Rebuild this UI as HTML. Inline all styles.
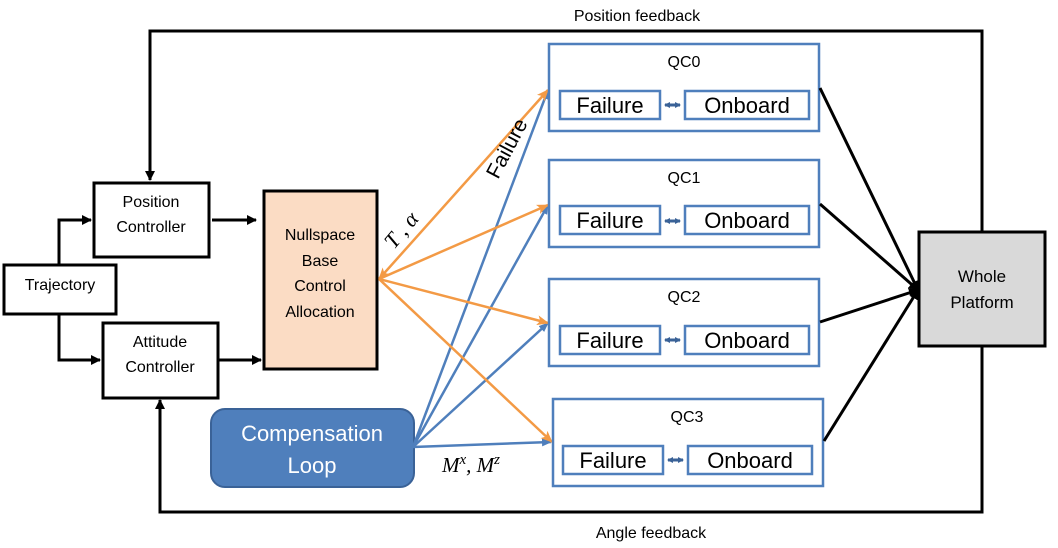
<!DOCTYPE html>
<html><head><meta charset="utf-8"><style>
body{margin:0;background:#fff;}
svg{display:block;font-family:"Liberation Sans",sans-serif;}
</style></head><body>
<svg width="1058" height="548" viewBox="0 0 1058 548" xmlns="http://www.w3.org/2000/svg">
<defs>
<marker id="ab" markerWidth="10" markerHeight="10" refX="9" refY="5" orient="auto" markerUnits="userSpaceOnUse"><path d="M0,0 L10,5 L0,10 z" fill="#000"/></marker>
<marker id="ao" markerWidth="12" markerHeight="10" refX="11" refY="5" orient="auto-start-reverse" markerUnits="userSpaceOnUse"><path d="M0,0 L12,5 L0,10 L3,5 z" fill="#f39a45"/></marker>
<marker id="abl" markerWidth="10" markerHeight="8" refX="9" refY="4" orient="auto" markerUnits="userSpaceOnUse"><path d="M0,0 L10,4 L0,8 z" fill="#4f7fbc"/></marker>
<marker id="dl" markerWidth="6" markerHeight="6" refX="5" refY="3" orient="auto-start-reverse" markerUnits="userSpaceOnUse"><path d="M0,0 L6,3 L0,6 z" fill="#3a6297"/></marker>
</defs>
<polyline points="982,232 982,31 150,31 150,180" fill="none" stroke="#000" stroke-width="3" marker-end="url(#ab)"/>
<polyline points="982,346 982,512 160,512 160,400" fill="none" stroke="#000" stroke-width="3" marker-end="url(#ab)"/>
<text x="637" y="21" font-size="16" text-anchor="middle">Position feedback</text>
<text x="651" y="538" font-size="16" text-anchor="middle">Angle feedback</text>
<polyline points="59,264 59,220 91,220" fill="none" stroke="#000" stroke-width="3" marker-end="url(#ab)"/>
<polyline points="59,314 59,360 100,360" fill="none" stroke="#000" stroke-width="3" marker-end="url(#ab)"/>
<line x1="212" y1="220" x2="256" y2="220" stroke="#000" stroke-width="3" marker-end="url(#ab)"/>
<line x1="219" y1="360" x2="261" y2="360" stroke="#000" stroke-width="3" marker-end="url(#ab)"/>
<rect x="4" y="265" width="112" height="49" fill="#fff" stroke="#000" stroke-width="3"/>
<text x="60" y="290" font-size="16" text-anchor="middle">Trajectory</text>
<rect x="94" y="183" width="115" height="74" fill="#fff" stroke="#000" stroke-width="3"/>
<text x="151" y="207" font-size="16" text-anchor="middle">Position</text>
<text x="151" y="232" font-size="16" text-anchor="middle">Controller</text>
<rect x="103" y="323" width="115" height="75" fill="#fff" stroke="#000" stroke-width="3"/>
<text x="160" y="347" font-size="16" text-anchor="middle">Attitude</text>
<text x="160" y="372" font-size="16" text-anchor="middle">Controller</text>
<rect x="264" y="191" width="113" height="178" fill="#fbdcc4" stroke="#000" stroke-width="3"/>
<g font-size="16" text-anchor="middle"><text x="320" y="240">Nullspace</text><text x="320" y="266">Base</text><text x="320" y="291">Control</text><text x="320" y="317">Allocation</text></g>
<rect x="211" y="409" width="203" height="78" rx="14" fill="#4f7fbc" stroke="#3a6297" stroke-width="2"/>
<text x="312" y="441" font-size="22" fill="#fff" text-anchor="middle">Compensation</text>
<text x="312" y="473" font-size="22" fill="#fff" text-anchor="middle">Loop</text>
<g stroke="#4f7fbc" stroke-width="2.5" fill="none">
<line x1="413" y1="447" x2="548" y2="90" marker-end="url(#abl)"/>
<line x1="413" y1="447" x2="548" y2="205" marker-end="url(#abl)"/>
<line x1="413" y1="447" x2="548" y2="323" marker-end="url(#abl)"/>
<line x1="413" y1="447" x2="551" y2="442" marker-end="url(#abl)"/>
</g>
<g stroke="#f39a45" stroke-width="2.5" fill="none">
<line x1="548" y1="90" x2="379" y2="279" marker-end="url(#ao)" marker-start="url(#ao)"/>
<line x1="548" y1="205" x2="379" y2="279" marker-start="url(#ao)"/>
<line x1="548" y1="323" x2="379" y2="279" marker-start="url(#ao)"/>
<line x1="552" y1="442" x2="379" y2="279" marker-start="url(#ao)"/>
</g>
<text x="0" y="0" font-size="22" font-family="Liberation Serif,serif" font-style="italic" transform="translate(394,250) rotate(-50)">T , α</text>
<text x="0" y="0" font-size="21" transform="translate(498,180) rotate(-62)">Failure</text>
<text x="442" y="472" font-size="21" font-family="Liberation Serif,serif" font-style="italic">M<tspan dy="-8" font-size="15">x</tspan><tspan dy="8">, M</tspan><tspan dy="-8" font-size="15">z</tspan></text>
<g font-size="16" text-anchor="middle">
<rect x="549" y="44" width="270" height="87" fill="none" stroke="#4f7fbc" stroke-width="2.5"/>
<text x="684" y="67">QC0</text>
<rect x="549" y="160" width="270" height="87" fill="none" stroke="#4f7fbc" stroke-width="2.5"/>
<text x="684" y="183">QC1</text>
<rect x="549" y="279" width="270" height="87" fill="none" stroke="#4f7fbc" stroke-width="2.5"/>
<text x="684" y="302">QC2</text>
<rect x="553" y="399" width="270" height="87" fill="none" stroke="#4f7fbc" stroke-width="2.5"/>
<text x="687" y="422">QC3</text>
</g>
<g font-size="22" text-anchor="middle" stroke-width="2.5">
<g>
<rect x="560" y="91" width="100" height="28" fill="none" stroke="#4f7fbc"/><text x="610" y="113">Failure</text>
<rect x="685" y="91" width="124" height="28" fill="none" stroke="#4f7fbc"/><text x="747" y="113">Onboard</text>
<line x1="665" y1="105" x2="680" y2="105" stroke="#3a6297" stroke-width="3" marker-start="url(#dl)" marker-end="url(#dl)"/>
</g>
<g>
<rect x="560" y="206" width="100" height="28" fill="none" stroke="#4f7fbc"/><text x="610" y="228">Failure</text>
<rect x="685" y="206" width="124" height="28" fill="none" stroke="#4f7fbc"/><text x="747" y="228">Onboard</text>
<line x1="665" y1="221" x2="680" y2="221" stroke="#3a6297" stroke-width="3" marker-start="url(#dl)" marker-end="url(#dl)"/>
</g>
<g>
<rect x="560" y="326" width="100" height="28" fill="none" stroke="#4f7fbc"/><text x="610" y="348">Failure</text>
<rect x="685" y="326" width="124" height="28" fill="none" stroke="#4f7fbc"/><text x="747" y="348">Onboard</text>
<line x1="665" y1="340" x2="680" y2="340" stroke="#3a6297" stroke-width="3" marker-start="url(#dl)" marker-end="url(#dl)"/>
</g>
<g>
<rect x="563" y="446" width="100" height="28" fill="none" stroke="#4f7fbc"/><text x="613" y="468">Failure</text>
<rect x="688" y="446" width="124" height="28" fill="none" stroke="#4f7fbc"/><text x="750" y="468">Onboard</text>
<line x1="668" y1="460" x2="683" y2="460" stroke="#3a6297" stroke-width="3" marker-start="url(#dl)" marker-end="url(#dl)"/>
</g>
</g>
<g stroke="#000" stroke-width="3" fill="none">
<line x1="820" y1="88" x2="918" y2="290" marker-end="url(#ab)"/>
<line x1="820" y1="204" x2="918" y2="290" marker-end="url(#ab)"/>
<line x1="820" y1="322" x2="918" y2="290" marker-end="url(#ab)"/>
<line x1="824" y1="441" x2="918" y2="290" marker-end="url(#ab)"/>
</g>
<rect x="919" y="232" width="126" height="114" fill="#d9d9d9" stroke="#000" stroke-width="3"/>
<text x="982" y="282" font-size="17" text-anchor="middle">Whole</text>
<text x="982" y="308" font-size="17" text-anchor="middle">Platform</text>
</svg>
</body></html>
